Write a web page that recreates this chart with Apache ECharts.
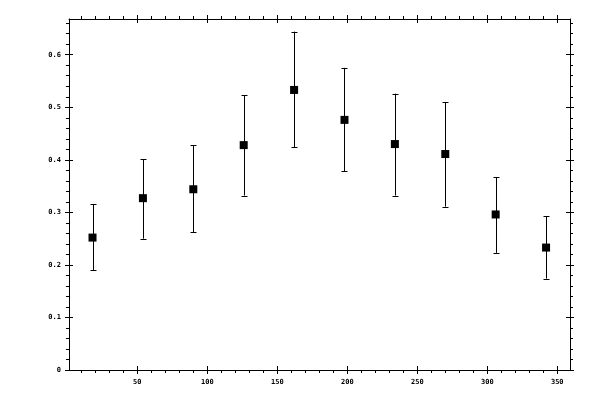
<!DOCTYPE html>
<html>
<head>
<meta charset="utf-8">
<script src="https://cdn.jsdelivr.net/npm/echarts@6/dist/echarts.min.js"></script>
<style>
    html, body { margin: 0; padding: 0; background: #fff; }
    #chart { width: 600px; height: 400px; }
</style>
</head>
<body>
<div id="chart"></div>
<script>
// 数据
var xValues = [18, 54, 90, 126, 162, 198, 234, 270, 306, 342];
var yValues = [0.252, 0.327, 0.344, 0.428, 0.533, 0.476, 0.430, 0.411, 0.296, 0.233];
var yLow    = [0.190, 0.250, 0.262, 0.332, 0.424, 0.378, 0.332, 0.311, 0.223, 0.174];
var yHigh   = [0.315, 0.401, 0.428, 0.523, 0.644, 0.575, 0.526, 0.510, 0.367, 0.293];

// 刻度
var xMajorTicks = [50, 100, 150, 200, 250, 300, 350];
var xMinorTicks = [10, 20, 30, 40, 50, 60, 70, 80, 90, 100, 110, 120, 130, 140, 150, 160, 170, 180,
                   190, 200, 210, 220, 230, 240, 250, 260, 270, 280, 290, 300, 310, 320, 330, 340, 350];
var yMajorTicks = [0, 0.1, 0.2, 0.3, 0.4, 0.5, 0.6];
var yMinorTicks = [0.02, 0.04, 0.06, 0.08, 0.12, 0.14, 0.16, 0.18, 0.22, 0.24, 0.26, 0.28,
                   0.32, 0.34, 0.36, 0.38, 0.42, 0.44, 0.46, 0.48, 0.52, 0.54, 0.56, 0.58,
                   0.62, 0.64, 0.66];

var xMin = 1.2, xMax = 359.1;
var yMin = 0, yMax = 0.668;

var lineStyle = { color: '#000', width: 1 };
var labelFont = { fontFamily: 'DejaVu Sans Mono', fontSize: 7, fontWeight: 'bold', color: '#000' };

// 次刻度轴：画轴线和向外的短刻度
function minorAxis(pos, min, max, ticks) {
    return {
        type: 'value', position: pos, min: min, max: max,
        axisLine: { show: true, onZero: false, lineStyle: lineStyle },
        axisTick: { show: true, length: 3, customValues: ticks, lineStyle: lineStyle },
        axisLabel: { show: false },
        splitLine: { show: false }
    };
}

// 主刻度轴：往里偏移4px，刻度长8px，穿过轴线
function majorAxis(pos, min, max, ticks, withLabel) {
    return {
        type: 'value', position: pos, offset: -4, min: min, max: max,
        axisLine: { show: false, onZero: false },
        axisTick: { show: true, length: 8, customValues: ticks, lineStyle: lineStyle },
        axisLabel: Object.assign({
            show: withLabel,
            customValues: ticks,
            margin: pos === 'bottom' ? 13 : 12
        }, labelFont),
        splitLine: { show: false }
    };
}

var chart = echarts.init(document.getElementById('chart'));

var errData = xValues.map(function (x, i) { return [x, yLow[i], yHigh[i]]; });
var pointData = xValues.map(function (x, i) { return [x, yValues[i]]; });

var option = {
    backgroundColor: '#fff',
    animation: false,
    grid: { left: 69, right: 30, top: 19, bottom: 30 },
    xAxis: [
        minorAxis('bottom', xMin, xMax, xMinorTicks),
        majorAxis('bottom', xMin, xMax, xMajorTicks, true),
        minorAxis('top', xMin, xMax, xMinorTicks),
        majorAxis('top', xMin, xMax, xMajorTicks, false)
    ],
    yAxis: [
        minorAxis('left', yMin, yMax, yMinorTicks),
        majorAxis('left', yMin, yMax, yMajorTicks, true),
        minorAxis('right', yMin, yMax, yMinorTicks),
        majorAxis('right', yMin, yMax, yMajorTicks, false)
    ],
    series: [{
        type: 'custom',
        data: errData,
        renderItem: function (params, api) {
            var x = api.value(0);
            var pLo = api.coord([x, api.value(1)]);
            var pHi = api.coord([x, api.value(2)]);
            var cx = Math.round(pLo[0]) + 0.5;
            var hw = 3;
            var st = { stroke: '#000', lineWidth: 1 };
            return {
                type: 'group',
                children: [
                    { type: 'line', shape: { x1: cx, y1: pLo[1], x2: cx, y2: pHi[1] }, style: st },
                    { type: 'line', shape: { x1: cx - hw, y1: Math.round(pLo[1]) + 0.5, x2: cx + hw, y2: Math.round(pLo[1]) + 0.5 }, style: st },
                    { type: 'line', shape: { x1: cx - hw, y1: Math.round(pHi[1]) + 0.5, x2: cx + hw, y2: Math.round(pHi[1]) + 0.5 }, style: st }
                ]
            };
        }
    }, {
        type: 'scatter',
        symbol: 'rect',
        symbolSize: 8,
        itemStyle: { color: '#000', opacity: 1 },
        data: pointData,
        z: 5
    }]
};

chart.setOption(option);
</script>
</body>
</html>
